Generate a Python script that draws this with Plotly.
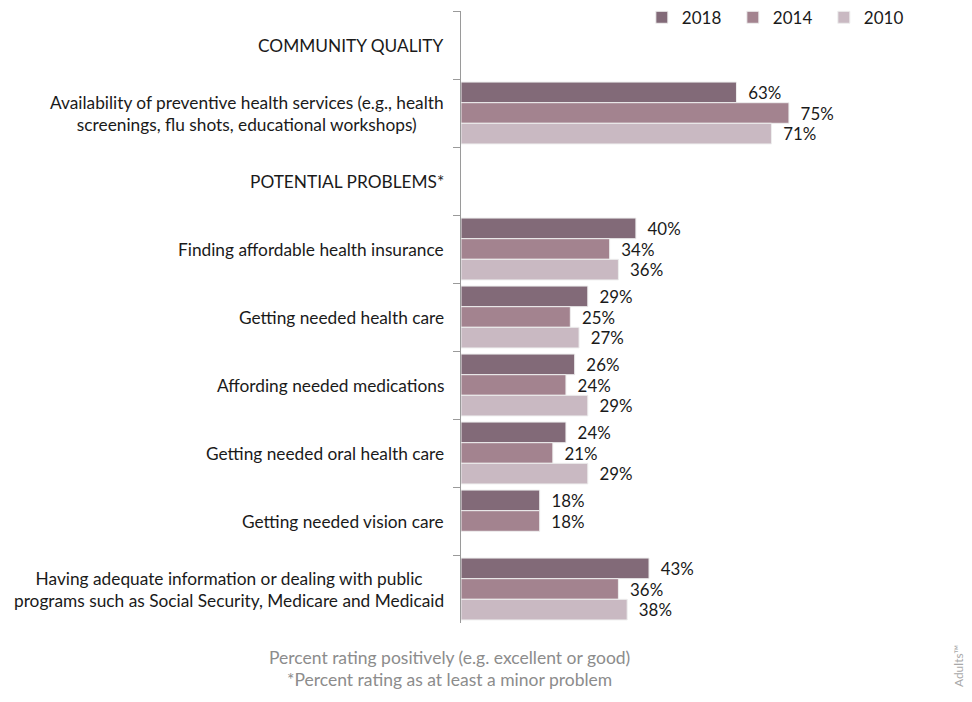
import plotly.graph_objects as go

categories = [
    "COMMUNITY QUALITY",
    "Availability of preventive health services (e.g., health<br>screenings, flu shots, educational workshops)",
    "POTENTIAL PROBLEMS*",
    "Finding affordable health insurance",
    "Getting needed health care",
    "Affording needed medications",
    "Getting needed oral health care",
    "Getting needed vision care",
    "Having adequate information or dealing with public<br>programs such as Social Security, Medicare and Medicaid",
]
values_2018 = [None, 63, None, 40, 29, 26, 24, 18, 43]
values_2014 = [None, 75, None, 34, 25, 24, 21, 18, 36]
values_2010 = [None, 71, None, 36, 27, 29, 29, None, 38]
series_names = ["2018", "2014", "2010"]
series_colors = ["#826A78", "#A3838F", "#C9B9C2"]

FONT = "Lato, 'Open Sans', sans-serif"

fig = go.Figure()
for name, vals, col in zip(series_names, [values_2018, values_2014, values_2010], series_colors):
    fig.add_trace(go.Bar(
        y=categories, x=vals, name=name, orientation="h",
        marker=dict(color=col, line=dict(color="#eeeeee", width=1)),
        text=[f"\u00a0\u00a0{v}%" if v is not None else "" for v in vals],
        textposition="outside", cliponaxis=False,
        textfont=dict(family=FONT, size=18, color="#1a1a1a"),
        hoverinfo="skip",
    ))

# category labels: right-aligned block, centred lines
label_annotations = [
    dict(xref="paper", yref="y", x=-15 / 481, y=c, text=c, showarrow=False,
         xanchor="right", yanchor="middle", align="center",
         font=dict(family=FONT, size=17.3, color="#1a1a1a"))
    for c in categories
]

fig.update_layout(
    width=972, height=702,
    margin=dict(l=461, r=30, t=11, b=79, autoexpand=False),
    paper_bgcolor="white", plot_bgcolor="white",
    barmode="group", bargap=0.09, bargroupgap=0,
    font=dict(family=FONT, size=17, color="#1a1a1a"),
    showlegend=True,
    legend=dict(orientation="h", x=0.376, y=0.989, xanchor="left", yanchor="middle",
                font=dict(size=17, color="#1a1a1a"), traceorder="normal",
                entrywidth=46, entrywidthmode="pixels", itemwidth=30,
                bgcolor="rgba(0,0,0,0)"),
    xaxis=dict(range=[0, 110], visible=False, showgrid=False, zeroline=False),
    yaxis=dict(autorange="reversed", showgrid=False, zeroline=False,
               showline=True, linecolor="#9a9a9a", linewidth=1,
               ticks="outside", ticklen=7, tickcolor="#9a9a9a", tickson="boundaries",
               showticklabels=False),
    annotations=label_annotations + [
        dict(xref="paper", yref="paper", x=-0.023, y=-0.057,
             text="Percent rating positively (e.g. excellent or good)",
             showarrow=False, font=dict(family=FONT, size=17.5, color="#8c8c8c"),
             xanchor="center", yanchor="middle"),
        dict(xref="paper", yref="paper", x=-0.023, y=-0.093,
             text="*Percent rating as at least a minor problem",
             showarrow=False, font=dict(family=FONT, size=17.5, color="#8c8c8c"),
             xanchor="center", yanchor="middle"),
        dict(xref="paper", yref="paper", x=1.033, y=-0.069, text="Adults™",
             showarrow=False, textangle=-90, font=dict(family=FONT, size=12, color="#a8a8a8"),
             xanchor="center", yanchor="middle"),
    ],
)

fig.write_html("out.html", config={"displayModeBar": False},
               post_script="document.body.style.margin='0px';")
